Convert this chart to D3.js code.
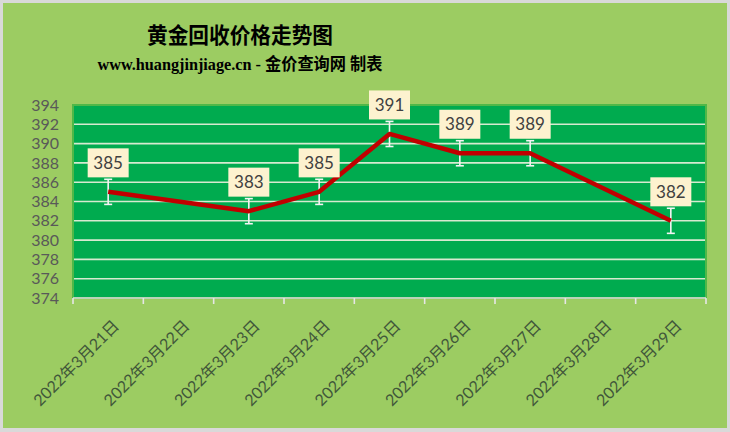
<!DOCTYPE html>
<html>
<head>
<meta charset="utf-8">
<script src="https://cdn.jsdelivr.net/npm/d3@7"></script>
<style>
  html, body { margin: 0; padding: 0; background: #d9d9d9; }
  svg { display: block; }
</style>
</head>
<body>
<svg id="chart" width="730" height="432"></svg>
<script>
// data
var dates = ["2022年3月21日", "2022年3月22日", "2022年3月23日", "2022年3月24日", "2022年3月25日",
             "2022年3月26日", "2022年3月27日", "2022年3月28日", "2022年3月29日"];
var prices = [385, null, 383, 385, 391, 389, 389, null, 382];
var errorAmount = 1.3;
var yTicks = [374, 376, 378, 380, 382, 384, 386, 388, 390, 392, 394];

var titleText = "黄金回收价格走势图";
var subtitleText = "www.huangjinjiage.cn - 金价查询网 制表";

var W = 730, H = 432;
var margin = {top: 105, right: 24, bottom: 134, left: 73};
var uiFont = "Lato, 'Noto Sans CJK SC', sans-serif";

var svg = d3.select("#chart");

// outer frame
svg.append("rect")
	.attr("x", 0).attr("y", 0)
	.attr("width", W).attr("height", H)
	.attr("fill", "#d9d9d9");
svg.append("rect")
	.attr("x", 3).attr("y", 3)
	.attr("width", W - 6).attr("height", H - 7)
	.attr("fill", "#9ccc62");

// titles
svg.append("text")
	.attr("x", 240).attr("y", 43)
	.attr("text-anchor", "middle")
	.attr("font-family", "'Noto Sans CJK SC', sans-serif")
	.attr("font-weight", "bold")
	.attr("font-size", 22)
	.attr("textLength", 186)
	.attr("lengthAdjust", "spacingAndGlyphs")
	.attr("fill", "#000")
	.text(titleText);

svg.append("text")
	.attr("x", 240).attr("y", 70)
	.attr("text-anchor", "middle")
	.attr("font-family", "'Liberation Serif', 'Noto Sans CJK SC', serif")
	.attr("font-weight", "bold")
	.attr("font-size", 17)
	.attr("textLength", 285)
	.attr("lengthAdjust", "spacingAndGlyphs")
	.attr("fill", "#000")
	.text(subtitleText);

var x0 = margin.left, x1 = W - margin.right;
var y0 = H - margin.bottom, y1 = margin.top;

var x = d3.scaleBand()
	.domain(dates)
	.range([x0, x1])
	.paddingInner(0).paddingOuter(0);

var y = d3.scaleLinear()
	.domain([374, 394])
	.range([y0, y1]);

// plot area
svg.append("rect")
	.attr("x", x0).attr("y", y1)
	.attr("width", x1 - x0).attr("height", y0 - y1)
	.attr("fill", "#00ab4f")
	.attr("stroke", "#4fb848")
	.attr("stroke-width", 2);

// gridlines
svg.append("g")
	.selectAll("line")
	.data(yTicks.slice(1, -1))
	.join("line")
	.attr("x1", x0 + 1).attr("x2", x1 - 1)
	.attr("y1", function(d) { return y(d); })
	.attr("y2", function(d) { return y(d); })
	.attr("stroke", "#d6ead0")
	.attr("stroke-width", 1.6);

// y axis labels
var yAxis = svg.append("g")
	.attr("transform", "translate(" + x0 + ",0)")
	.call(d3.axisLeft(y).tickValues(yTicks).tickSize(0).tickPadding(14));
yAxis.select(".domain").remove();
yAxis.selectAll("text")
	.attr("font-family", uiFont)
	.attr("font-size", 16)
	.attr("fill", "#595959");

// x axis line + tick marks at category boundaries
svg.append("line")
	.attr("x1", x0).attr("x2", x1)
	.attr("y1", y0).attr("y2", y0)
	.attr("stroke", "#dedede")
	.attr("stroke-width", 1.6);
var bounds = dates.map(function(d) { return x(d); }).concat([x1]);
svg.append("g")
	.selectAll("line")
	.data(bounds)
	.join("line")
	.attr("x1", function(d) { return d; })
	.attr("x2", function(d) { return d; })
	.attr("y1", y0).attr("y2", y0 + 6)
	.attr("stroke", "#e6e6e6")
	.attr("stroke-width", 1.6);

// x labels, rotated
svg.append("g")
	.selectAll("text")
	.data(dates)
	.join("text")
	.attr("transform", function(d) {
		var cx = x(d) + x.bandwidth() / 2 + 12;
		return "translate(" + cx + "," + (y0 + 29) + ") rotate(-45)";
	})
	.attr("text-anchor", "end")
	.attr("font-family", uiFont)
	.attr("font-size", 16)
	.attr("fill", "#41573a")
	.text(function(d) { return d; });

// series points
var pts = dates.map(function(d, i) { return {date: d, v: prices[i]}; })
	.filter(function(p) { return p.v != null; });
var cx = function(p) { return x(p.date) + x.bandwidth() / 2; };

// error bars
var eb = svg.append("g").attr("stroke", "#f4f4f4").attr("stroke-width", 1.6);
pts.forEach(function(p) {
	var top = y(p.v + errorAmount), bot = y(p.v - errorAmount);
	eb.append("line").attr("x1", cx(p)).attr("x2", cx(p)).attr("y1", top).attr("y2", bot);
	eb.append("line").attr("x1", cx(p) - 4).attr("x2", cx(p) + 4).attr("y1", top).attr("y2", top);
	eb.append("line").attr("x1", cx(p) - 4).attr("x2", cx(p) + 4).attr("y1", bot).attr("y2", bot);
});

// line (gaps connected)
svg.append("path")
	.datum(pts)
	.attr("d", d3.line().x(cx).y(function(p) { return y(p.v); }))
	.attr("fill", "none")
	.attr("stroke", "#c00000")
	.attr("stroke-width", 4.5)
	.attr("stroke-linejoin", "round");

// data labels
var lab = svg.append("g")
	.selectAll("g")
	.data(pts)
	.join("g")
	.attr("transform", function(p) { return "translate(" + cx(p) + "," + (y(p.v) - 29) + ")"; });
lab.append("rect")
	.attr("x", -20.5).attr("y", -14.5)
	.attr("width", 41).attr("height", 29)
	.attr("fill", "#fdf2cf");
lab.append("text")
	.attr("text-anchor", "middle")
	.attr("dy", "0.35em")
	.attr("font-family", uiFont)
	.attr("font-size", 17)
	.attr("fill", "#404040")
	.text(function(p) { return p.v; });
</script>
</body>
</html>
